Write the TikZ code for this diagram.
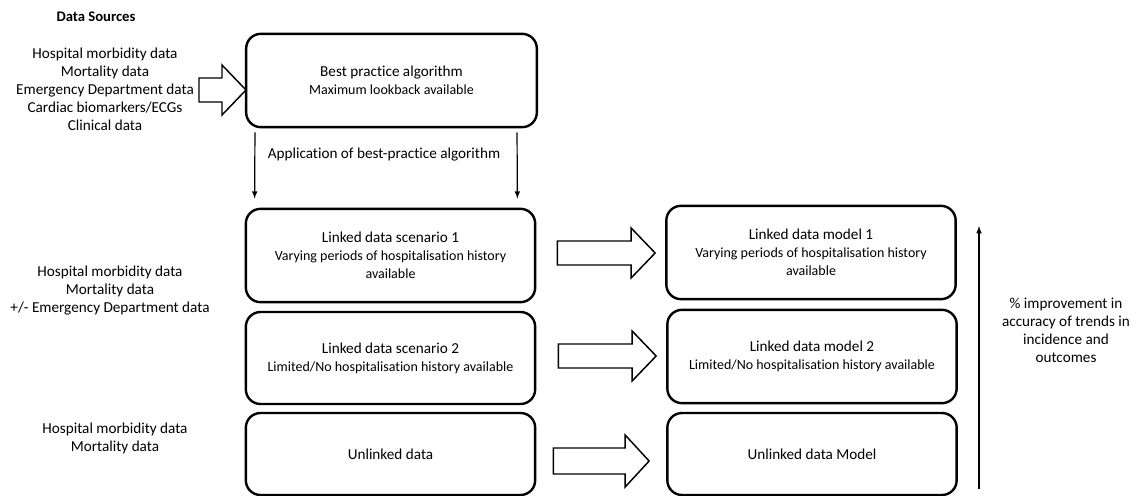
\documentclass[tikz,border=0pt]{standalone}
\usepackage{fontspec}
\setmainfont[Ligatures=NoCommon]{Carlito}
\usetikzlibrary{calc}
\newcommand{\subl}{\fontsize{10.5}{13.5}\selectfont}

\begin{document}
\begin{tikzpicture}[x=0.75pt,y=-0.75pt,
  font=\fontsize{11.4}{13.5}\selectfont,
  box/.style={draw,line width=1.8pt,rounded corners=11pt,align=center,inner sep=0pt},
  hollow/.style={draw,line width=1.1pt,line join=miter},
  thin/.style={->,line width=0.9pt},
  >=latex]
\useasboundingbox (0,0) rectangle (1136,496);

\node[font=\fontsize{11}{13}\selectfont\bfseries] (title) at (96,17) {Data Sources};
\node[align=center] (src1) at (105,89.5) {Hospital morbidity data\\Mortality data\\Emergency Department data\\Cardiac biomarkers/ECGs\\Clinical data};
\node[align=center] (src2) at (110,291) {Hospital morbidity data\\Mortality data\\+/- Emergency Department data};
\node[align=center] (src3) at (115,438) {Hospital morbidity data\\Mortality data};

\node[box,minimum width=218pt,minimum height=70pt] (best) at (391.5,80.5) {Best practice algorithm\\\subl Maximum lookback available};
\node (apply) at (384,155) {Application of best-practice algorithm};

\node[box,minimum width=217pt,minimum height=70pt] (scen1) at (390.5,255.5) {Linked data scenario 1\\\subl Varying periods of hospitalisation history\\\subl available};
\node[box,minimum width=217pt,minimum height=69pt] (scen2) at (390.5,358) {Linked data scenario 2\\\subl Limited/No hospitalisation history available};
\node[box,minimum width=217pt,minimum height=61.5pt] (unl) at (390.5,454) {Unlinked data};

\node[box,minimum width=217pt,minimum height=70pt] (mod1) at (811,252.5) {Linked data model 1\\\subl Varying periods of hospitalisation history\\\subl available};
\node[box,minimum width=217pt,minimum height=70pt] (mod2) at (812,356.5) {Linked data model 2\\\subl Limited/No hospitalisation history available};
\node[box,minimum width=217pt,minimum height=61.5pt] (umod) at (812,454) {Unlinked data Model};

\node[align=center] (gain) at (1066,330) {\% improvement in\\accuracy of trends in\\incidence and\\outcomes};

\coordinate (in0) at (199,90);
\coordinate (tip0) at (246,90);
\coordinate (in1) at ($(scen1.east)+(21,-2.5)$);
\coordinate (tip1) at ($(mod1.west)+(-10,0.5)$);
\coordinate (in2) at ($(scen2.east)+(22,-2)$);
\coordinate (tip2) at ($(mod2.west)+(-10,-0.5)$);
\coordinate (in3) at ($(unl.east)+(17,7)$);
\coordinate (tip3) at ($(umod.west)+(-17,7)$);

\draw[hollow] ($(in0)+(0,-12)$) -- ($(tip0)+(-24,-12)$) -- ($(tip0)+(-24,-25)$) -- (tip0) -- ($(tip0)+(-24,25)$) -- ($(tip0)+(-24,12)$) -- ($(in0)+(0,12)$) -- cycle;
\draw[hollow] ($(in1)+(0,-12)$) -- ($(tip1)+(-24,-12)$) -- ($(tip1)+(-24,-25)$) -- (tip1) -- ($(tip1)+(-24,25)$) -- ($(tip1)+(-24,12)$) -- ($(in1)+(0,12)$) -- cycle;
\draw[hollow] ($(in2)+(0,-12)$) -- ($(tip2)+(-24,-12)$) -- ($(tip2)+(-24,-25)$) -- (tip2) -- ($(tip2)+(-24,25)$) -- ($(tip2)+(-24,12)$) -- ($(in2)+(0,12)$) -- cycle;
\draw[hollow] ($(in3)+(0,-13)$) -- ($(tip3)+(-24,-13)$) -- ($(tip3)+(-24,-26)$) -- (tip3) -- ($(tip3)+(-24,26)$) -- ($(tip3)+(-24,13)$) -- ($(in3)+(0,13)$) -- cycle;

\draw[thin] ($(best.south west)+(10,4)$) -- ($(scen1.north west)+(10,-9)$);
\draw[thin] ($(best.south east)+(-21,4)$) -- ($(scen1.north east)+(-19,-9)$);

\coordinate (low) at (979,489);
\coordinate (high) at (979,226);
\draw[thin] (low) -- (high);
\end{tikzpicture}
\end{document}
